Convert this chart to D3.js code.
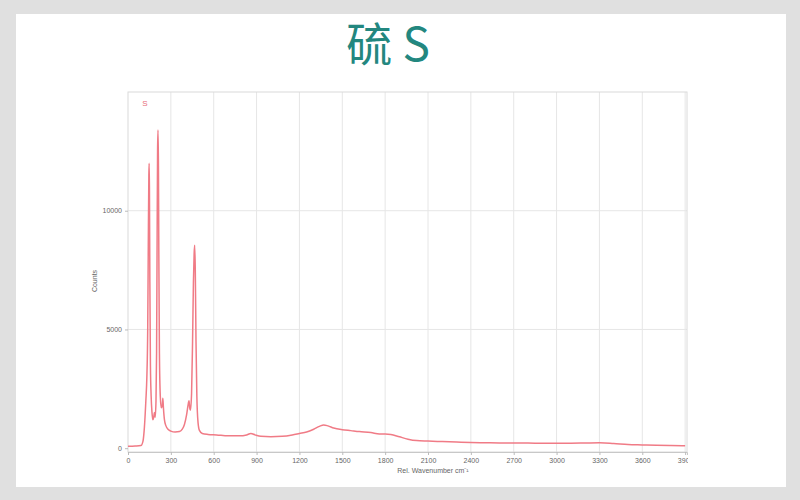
<!DOCTYPE html>
<html><head><meta charset="utf-8">
<script src="https://cdn.jsdelivr.net/npm/d3@7"></script>
<style>html,body{margin:0;padding:0;background:#e0e0e0;}svg{display:block;}</style>
</head><body>
<script>
const title = "硫 S";
const seriesName = "S";
const xLabel = "Rel. Wavenumber cm⁻¹";
const yLabel = "Counts";
const xTicks = [0,300,600,900,1200,1500,1800,2100,2400,2700,3000,3300,3600,3900];
const yTicks = [0,5000,10000];
const wavenumber = [0,50,90,105,115,125,132,138,142,146,148,150,153,157,162,168,174,180,185,190,196,200,204,207,210,213,216,220,226,233,240,244,248,255,265,280,300,330,360,380,395,410,420,427,432,437,445,452,458,463,467,471,476,482,490,500,520,560,620,700,780,830,860,890,930,1000,1080,1150,1200,1250,1300,1340,1370,1400,1440,1500,1560,1620,1700,1760,1800,1840,1900,1960,2020,2100,2200,2300,2400,2500,2600,2700,2800,2900,3000,3100,3200,3300,3400,3500,3600,3700,3800,3900];
const counts = [80,90,110,300,900,2000,3000,5000,8500,11500,12000,11000,7000,3500,2200,1500,1200,1300,1500,1300,2000,4000,9000,12500,13400,12000,8000,4000,2200,1700,1800,2100,1700,1200,950,800,720,680,700,800,1000,1400,1800,2000,1700,1600,2300,4500,7000,8200,8550,7500,4500,2200,1100,750,620,580,560,520,520,560,620,560,500,480,500,560,620,680,800,920,980,940,850,780,740,700,660,600,600,580,480,380,320,300,280,260,240,230,220,220,215,210,205,210,220,230,200,160,140,120,110,105];

const W = 800, H = 500;
const svg = d3.select("body").append("svg").attr("width", W).attr("height", H);
svg.append("rect").attr("x",0).attr("y",0).attr("width",W).attr("height",H).attr("fill","#e0e0e0");
svg.append("rect").attr("x",16).attr("y",14).attr("width",770).attr("height",473).attr("fill","#ffffff");

svg.append("text").attr("x",388).attr("y",61).attr("text-anchor","middle")
  .attr("font-family","'Noto Sans CJK SC','Noto Sans',sans-serif").attr("font-size",46)
  .attr("fill","#23877f").text(title);

const L = 128, R = 687, T = 92, B = 452;
const x = d3.scaleLinear().domain([0, 3913]).range([L, R]);
const y = d3.scaleLinear().domain([-160, 15000]).range([B, T]);

// grid
const g = svg.append("g");
g.selectAll(".vg").data(xTicks.filter(d => x(d) > L + 1 && x(d) < R - 1)).enter().append("line")
  .attr("x1", d => x(d)).attr("x2", d => x(d)).attr("y1", T).attr("y2", B)
  .attr("stroke", "#e6e6e6").attr("stroke-width", 1);
g.selectAll(".hg").data(yTicks.filter(d => d > 0)).enter().append("line")
  .attr("x1", L).attr("x2", R).attr("y1", d => y(d)).attr("y2", d => y(d))
  .attr("stroke", "#e6e6e6").attr("stroke-width", 1);
svg.append("rect").attr("x", L).attr("y", T).attr("width", R - L).attr("height", B - T)
  .attr("fill", "none").attr("stroke", "#dadada").attr("stroke-width", 1);

// axes
svg.append("clipPath").attr("id","xclip").append("rect").attr("x",0).attr("y",0).attr("width",R+1).attr("height",H);
const xAxis = svg.append("g").attr("transform", `translate(0,${B})`).attr("clip-path","url(#xclip)")
  .call(d3.axisBottom(x).tickValues(xTicks).tickSize(3).tickPadding(3).tickFormat(d3.format("d")));
xAxis.select(".domain").attr("stroke", "#c8c8c8");
xAxis.selectAll(".tick line").attr("stroke", "#bbbbbb");
xAxis.selectAll("text").attr("font-family","Arial, 'Liberation Sans', sans-serif").attr("font-size",7).attr("fill","#666");

const yAxis = svg.append("g").attr("transform", `translate(${L},0)`)
  .call(d3.axisLeft(y).tickValues(yTicks).tickSize(3).tickPadding(3).tickFormat(d3.format("d")));
yAxis.select(".domain").remove();
yAxis.selectAll(".tick line").attr("stroke", "#bbbbbb");
yAxis.selectAll("text").attr("font-family","Arial, 'Liberation Sans', sans-serif").attr("font-size",7).attr("fill","#666");

svg.append("text").attr("x", 433).attr("y", 473).attr("text-anchor","middle")
  .attr("font-family","Arial, 'Liberation Sans', sans-serif").attr("font-size",7).attr("fill","#666").text(xLabel);
svg.append("text").attr("transform","translate(97,281) rotate(-90)").attr("text-anchor","middle")
  .attr("font-family","Arial, 'Liberation Sans', sans-serif").attr("font-size",7).attr("fill","#666").text(yLabel);

svg.append("text").attr("x",145).attr("y",106).attr("text-anchor","middle")
  .attr("font-family","Arial, 'Liberation Sans', sans-serif").attr("font-size",8).attr("fill","#e8707c").text(seriesName);

const data = wavenumber.map((w, i) => ({w, c: counts[i]}));
const line = d3.line().x(d => x(d.w)).y(d => y(d.c)).curve(d3.curveMonotoneX);
svg.append("path").datum(data).attr("d", line).attr("fill","none")
  .attr("stroke","#f07b86").attr("stroke-width",1.5).attr("stroke-linejoin","round");
</script>
</body></html>
